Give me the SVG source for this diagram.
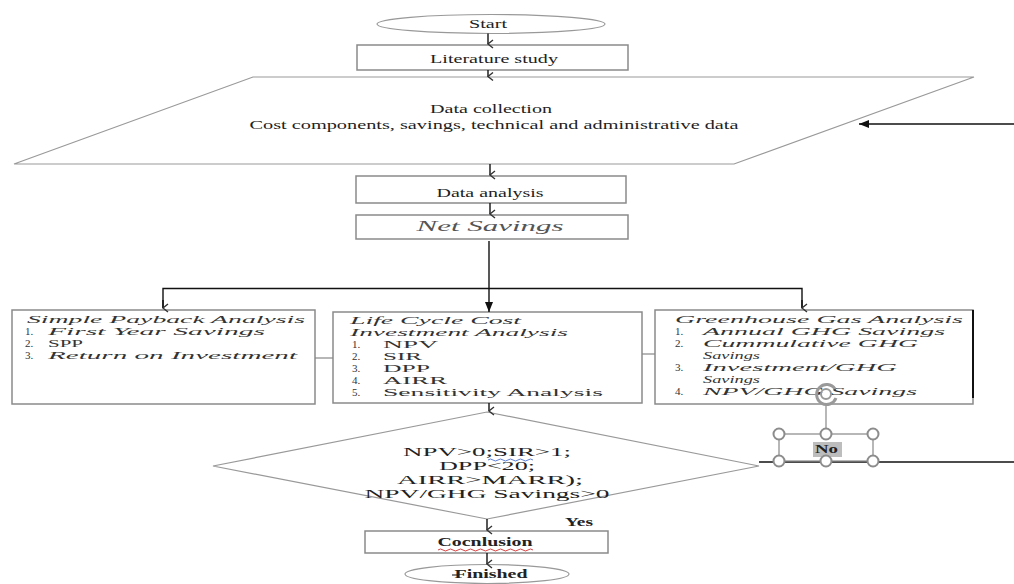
<svg xmlns="http://www.w3.org/2000/svg" width="1014" height="584" viewBox="0 0 1014 584">
<style>
  text { font-family: "Liberation Serif", "Times New Roman", serif; fill: #222; }
  .c { text-anchor: middle; font-size: 13px; }
  .b { font-weight: bold; }
  .it { font-style: italic; font-size: 11px; fill: #333; }
  .up { font-size: 11px; fill: #333; }
  .box { fill: #fff; stroke: #8a8a8a; stroke-width: 1.5; }
  .shape { fill: #fff; stroke: #999; stroke-width: 1.2; }
  .ln { fill: none; stroke: #111; stroke-width: 1.4; }
  .gl { fill: none; stroke: #888; stroke-width: 1.2; }
  .h { fill: #fff; stroke: #8c8c8c; stroke-width: 2; }
</style>
<defs>
  <marker id="open" markerWidth="10" markerHeight="10" refX="5" refY="8" orient="auto-start-reverse" markerUnits="userSpaceOnUse" viewBox="0 0 10 10">
    <path d="M1,3 L5,8 L9,3" fill="none" stroke="#333" stroke-width="1.4"/>
  </marker>
  <marker id="solid" markerWidth="12" markerHeight="10" refX="10" refY="5" orient="auto" markerUnits="userSpaceOnUse" viewBox="0 0 12 10">
    <path d="M0,1 L10,5 L0,9 Z" fill="#111"/>
  </marker>
</defs>

<g id="start">
  <ellipse cx="491" cy="24" rx="114" ry="9.5" class="shape"/>
  <text class="c" x="488" y="28" textLength="38" lengthAdjust="spacingAndGlyphs">Start</text>
</g>
<g id="literature">
  <rect x="357" y="45" width="271" height="25" class="box"/>
  <text class="c" x="494" y="63" textLength="128" lengthAdjust="spacingAndGlyphs">Literature study</text>
</g>
<g id="data-collection">
  <polygon points="253,77 974,77 734,164 14,164" class="shape"/>
  <text class="c" x="491" y="113" textLength="122" lengthAdjust="spacingAndGlyphs">Data collection</text>
  <text class="c" x="494" y="129" textLength="489" lengthAdjust="spacingAndGlyphs">Cost components, savings, technical and administrative data</text>
</g>
<g id="data-analysis">
  <rect x="356" y="176" width="270" height="27" class="box"/>
  <text class="c" x="490" y="197" textLength="107" lengthAdjust="spacingAndGlyphs">Data analysis</text>
</g>
<g id="net-savings">
  <rect x="356" y="215" width="272" height="24" class="box"/>
  <text class="c" x="490" y="231" textLength="147" lengthAdjust="spacingAndGlyphs" style="font-style:italic;font-size:15px;fill:#555">Net Savings</text>
</g>
<g id="simple-payback">
  <rect x="12" y="310" width="303" height="94" class="box"/>
  <text class="it" x="27" y="323" textLength="278" lengthAdjust="spacingAndGlyphs">Simple Payback Analysis</text>
  <text class="up" x="25" y="335">1.</text>
  <text class="it" x="48" y="335" textLength="217" lengthAdjust="spacingAndGlyphs">First Year Savings</text>
  <text class="up" x="25" y="347">2.</text>
  <text class="up" x="48" y="347" textLength="35" lengthAdjust="spacingAndGlyphs">SPP</text>
  <text class="up" x="25" y="359">3.</text>
  <text class="it" x="48" y="359" textLength="249" lengthAdjust="spacingAndGlyphs">Return on Investment</text>
</g>
<g id="life-cycle">
  <rect x="333" y="312" width="309" height="91" class="box"/>
  <text class="it" x="350" y="324" textLength="171" lengthAdjust="spacingAndGlyphs">Life Cycle Cost</text>
  <text class="it" x="350" y="336" textLength="218" lengthAdjust="spacingAndGlyphs">Investment Analysis</text>
  <text class="up" x="352" y="348">1.</text>
  <text class="up" x="383" y="348" textLength="55" lengthAdjust="spacingAndGlyphs">NPV</text>
  <text class="up" x="352" y="360">2.</text>
  <text class="up" x="383" y="360" textLength="39" lengthAdjust="spacingAndGlyphs">SIR</text>
  <text class="up" x="352" y="372">3.</text>
  <text class="up" x="383" y="372" textLength="47" lengthAdjust="spacingAndGlyphs">DPP</text>
  <text class="up" x="352" y="384">4.</text>
  <text class="up" x="383" y="384" textLength="64" lengthAdjust="spacingAndGlyphs">AIRR</text>
  <text class="up" x="352" y="396">5.</text>
  <text class="up" x="383" y="396" textLength="220" lengthAdjust="spacingAndGlyphs">Sensitivity Analysis</text>
</g>
<g id="ghg">
  <rect x="655" y="310" width="318" height="94" class="box"/>
  <line x1="973" y1="310" x2="973" y2="398" stroke="#111" stroke-width="2"/>
  <text class="it" x="675" y="323" textLength="288" lengthAdjust="spacingAndGlyphs">Greenhouse Gas Analysis</text>
  <text class="up" x="675" y="335">1.</text>
  <text class="it" x="703" y="335" textLength="242" lengthAdjust="spacingAndGlyphs">Annual GHG Savings</text>
  <text class="up" x="675" y="347">2.</text>
  <text class="it" x="703" y="347" textLength="215" lengthAdjust="spacingAndGlyphs">Cummulative GHG</text>
  <text class="it" x="703" y="359" textLength="57" lengthAdjust="spacingAndGlyphs">Savings</text>
  <text class="up" x="675" y="371">3.</text>
  <text class="it" x="703" y="371" textLength="194" lengthAdjust="spacingAndGlyphs">Investment/GHG</text>
  <text class="it" x="703" y="383" textLength="57" lengthAdjust="spacingAndGlyphs">Savings</text>
  <text class="up" x="675" y="395">4.</text>
  <text class="it" x="703" y="395" textLength="214" lengthAdjust="spacingAndGlyphs">NPV/GHG Savings</text>
</g>
<g id="decision">
  <polygon points="487,412 759,466 487,519 213,466" class="shape"/>
  <text class="c" x="487" y="456" textLength="168" lengthAdjust="spacingAndGlyphs">NPV&gt;0;SIR&gt;1;</text>
  <path d="M488,460 q2.5,-2 5,0 t5,0 t5,0 t5,0 t5,0 t5,0 t5,0 t5,0 t5,0" fill="none" stroke="#4a6fd0" stroke-width="0.9"/>
  <text class="c" x="487" y="470" textLength="96" lengthAdjust="spacingAndGlyphs">DPP&lt;20;</text>
  <text class="c" x="490" y="484" textLength="186" lengthAdjust="spacingAndGlyphs">AIRR&gt;MARR);</text>
  <text class="c" x="487" y="498" textLength="245" lengthAdjust="spacingAndGlyphs">NPV/GHG Savings&gt;0</text>
</g>
<g id="conclusion">
  <rect x="365" y="531" width="243" height="22" class="box"/>
  <text class="c b" x="485" y="546" textLength="95" lengthAdjust="spacingAndGlyphs">Cocnlusion</text>
  <path d="M438,550 q2.5,-2 5,0 t5,0 t5,0 t5,0 t5,0 t5,0 t5,0 t5,0 t5,0 t5,0 t5,0 t5,0 t5,0 t5,0 t5,0 t5,0 t5,0 t5,0 t5,0" fill="none" stroke="#d03030" stroke-width="0.9"/>
</g>
<g id="finished">
  <ellipse cx="487" cy="574" rx="82" ry="9.5" class="shape"/>
  <line x1="452" y1="575" x2="458" y2="575" stroke="#333" stroke-width="1.2"/>
  <text class="c b" x="491" y="578" textLength="73" lengthAdjust="spacingAndGlyphs">Finished</text>
</g>
<g id="labels">
  <text class="b" x="565" y="526" style="font-size:13px" textLength="28" lengthAdjust="spacingAndGlyphs">Yes</text>
  <rect x="813" y="442" width="29" height="15" fill="#bdbdbd"/>
  <text class="b" x="815" y="453" style="font-size:12px" textLength="23" lengthAdjust="spacingAndGlyphs">No</text>
</g>
<g id="connectors">
  <line x1="488" y1="33.5" x2="488" y2="44" class="ln" marker-end="url(#open)"/>
  <line x1="488" y1="70" x2="488" y2="76.5" class="ln" marker-end="url(#open)"/>
  <line x1="490" y1="164" x2="490" y2="175" class="ln" marker-end="url(#open)"/>
  <line x1="490" y1="203" x2="490" y2="214" class="ln" marker-end="url(#open)"/>
  <line x1="489" y1="241" x2="489" y2="312" class="ln" marker-end="url(#solid)"/>
  <polyline points="163,308 163,288.5 802,288.5 802,308" class="ln"/>
  <line x1="163" y1="300" x2="163" y2="308" class="ln" marker-end="url(#open)"/>
  <line x1="802" y1="300" x2="802" y2="308" class="ln" marker-end="url(#open)"/>
  <line x1="315" y1="358" x2="333" y2="358" class="gl"/>
  <line x1="642" y1="354" x2="655" y2="354" class="gl"/>
  <line x1="489" y1="403" x2="489" y2="411" class="ln" marker-end="url(#open)"/>
  <line x1="487" y1="519" x2="487" y2="530" class="ln" marker-end="url(#open)"/>
  <line x1="487" y1="553" x2="487" y2="564" class="ln" marker-end="url(#open)"/>
  <line x1="1014" y1="124" x2="859" y2="124" class="ln" marker-end="url(#solid)"/>
  <line x1="759" y1="462" x2="1014" y2="462" class="ln"/>
</g>
<g id="selection">
  <line x1="826" y1="405" x2="826" y2="434" class="gl" stroke-width="2"/>
  <rect x="779" y="434" width="94" height="27" class="gl" stroke-width="1.6"/>
  <path d="M835,389 A10,10 0 1,0 836,398" fill="none" stroke="#999" stroke-width="3"/>
  <circle cx="826" cy="394" r="5" fill="none" stroke="#999" stroke-width="2"/>
  <circle cx="779" cy="434" r="5.5" class="h"/>
  <circle cx="826" cy="434" r="5.5" class="h"/>
  <circle cx="873" cy="434" r="5.5" class="h"/>
  <circle cx="779" cy="461" r="5.5" class="h"/>
  <circle cx="826" cy="461" r="5.5" class="h"/>
  <circle cx="873" cy="461" r="5.5" class="h"/>
</g>
</svg>
